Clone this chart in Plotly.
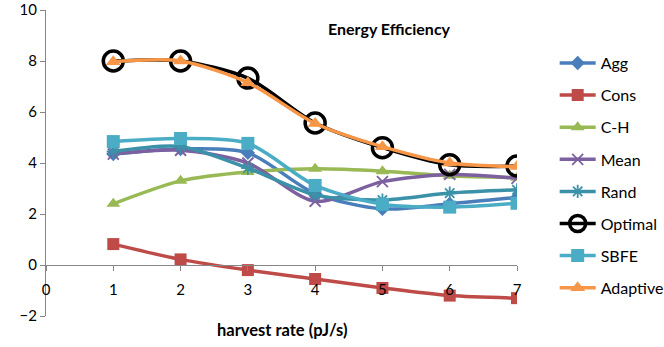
import plotly.graph_objects as go

x = [1, 2, 3, 4, 5, 6, 7]
series_names = ["Agg", "Cons", "C-H", "Mean", "Rand", "Optimal", "SBFE", "Adaptive"]
agg = [4.35, 4.55, 4.4, 2.8, 2.2, 2.4, 2.65]
cons = [0.82, 0.22, -0.2, -0.55, -0.9, -1.2, -1.3]
ch = [2.4, 3.3, 3.65, 3.77, 3.68, 3.5, 3.42]
mean = [4.35, 4.5, 4.0, 2.5, 3.27, 3.55, 3.4]
rand = [4.45, 4.65, 3.8, 2.75, 2.55, 2.82, 2.95]
optimal = [8.0, 8.0, 7.33, 5.57, 4.6, 3.93, 3.88]
sbfe = [4.84, 4.96, 4.77, 3.12, 2.38, 2.27, 2.42]
adaptive = [7.97, 8.0, 7.15, 5.55, 4.64, 4.0, 3.86]

x_ticks = [0, 1, 2, 3, 4, 5, 6, 7]
y_ticks = [-2, 0, 2, 4, 6, 8, 10]

colors = ["#4A7EBB", "#BE4B48", "#98B954", "#7D60A0", "#3A91A8", "#000000", "#4BACC6", "#F79646"]
symbols = ["diamond", "square", "triangle-up", "x-thin", "asterisk", "circle-open", "square", "triangle-up"]
sizes = [11, 12, 12, 11, 11, 20, 13, 13]
data = [agg, cons, ch, mean, rand, optimal, sbfe, adaptive]

FONT = "Lato, Open Sans, sans-serif"

fig = go.Figure()
for i, (name, ys) in enumerate(zip(series_names, data)):
    mk = dict(symbol=symbols[i], size=sizes[i], color=colors[i])
    if symbols[i] in ("x-thin", "asterisk"):
        mk["line"] = dict(color=colors[i], width=1.8)
    if symbols[i] == "circle-open":
        mk["line"] = dict(color=colors[i], width=3.5)
    fig.add_trace(go.Scatter(
        x=x, y=ys, name=name, mode="lines+markers",
        line=dict(color=colors[i], width=3.5, shape="spline", smoothing=0.8),
        marker=mk, legendgroup=name,
    ))

fig.update_layout(
    width=664, height=347,
    margin=dict(l=46, r=147, t=10, b=31, autoexpand=False),
    paper_bgcolor="white", plot_bgcolor="white",
    font=dict(family=FONT, size=15, color="#000000"),
    showlegend=True,
    legend=dict(x=1.08, y=0.882, xanchor="left", yanchor="top",
                font=dict(size=16), tracegroupgap=8.3, traceorder="grouped",
                itemwidth=36, bgcolor="rgba(0,0,0,0)"),
    xaxis=dict(range=[0, 7], tickvals=x_ticks, ticktext=[str(v) for v in x_ticks],
               showgrid=False, zeroline=False, showline=True, linecolor="#868686",
               linewidth=1, ticks="outside", ticklen=5, tickcolor="#868686",
               anchor="free", position=2/12, tickfont=dict(size=15), automargin=False,
               ticklabelstandoff=6),
    yaxis=dict(range=[-2, 10], tickvals=y_ticks, showgrid=False, zeroline=False,
               showline=True, linecolor="#868686", linewidth=1, ticks="outside",
               ticklen=5, tickcolor="#868686", tickfont=dict(size=15), automargin=False),
    annotations=[
        dict(text="<b>Energy Efficiency</b>", x=389, y=28, showarrow=False,
             xanchor="center", yanchor="middle", font=dict(size=16)),
        dict(text="<b>harvest rate (pJ/s)</b>", x=282, y=330, showarrow=False,
             xanchor="center", yanchor="middle", font=dict(size=16.5)),
    ],
)
pw, ph = 664 - 46 - 147, 347 - 10 - 31
for a in fig.layout.annotations:
    px, py = a.x, a.y
    a.x = (px - 46) / pw
    a.y = 1 - (py - 10) / ph
    a.xref = "paper"
    a.yref = "paper"

fig.write_html("out.html", config={"displayModeBar": False},
               post_script="document.body.style.margin='0';document.body.style.overflow='hidden';")
